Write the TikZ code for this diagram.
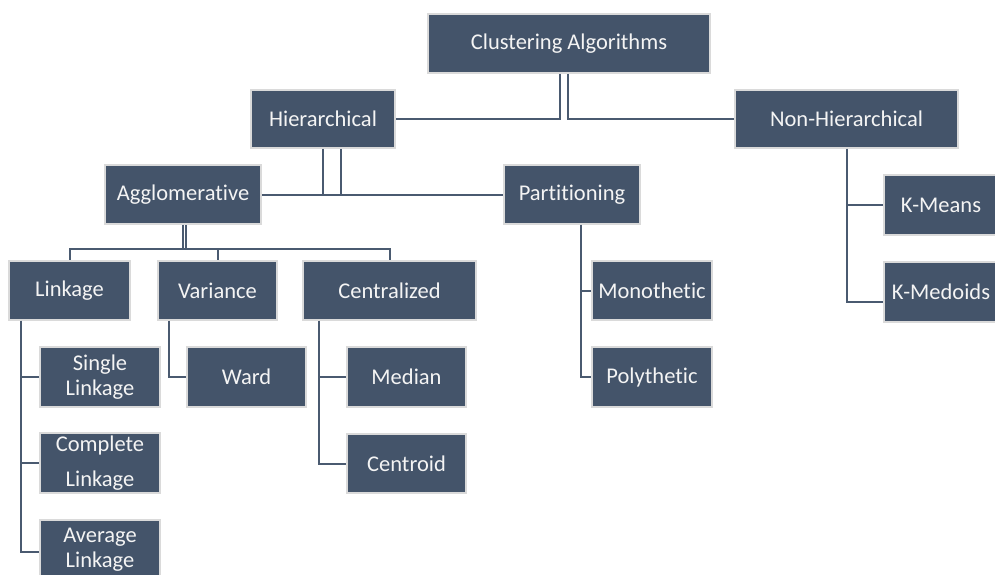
\documentclass[tikz,border=0pt]{standalone}
\usepackage{fontspec}
\setmainfont{Carlito}[Ligatures=NoCommon]
\definecolor{boxfill}{HTML}{44546A}
\definecolor{boxedge}{HTML}{DADADA}
\definecolor{linecol}{HTML}{4A5A70}
\definecolor{txtcol}{HTML}{F4F4F4}
\tikzset{
  box/.style={draw=boxedge, line width=1.6pt, fill=boxfill, text=txtcol,
    align=center, inner sep=0pt, font=\fontsize{22.5}{25}\selectfont},
  conn/.style={draw=linecol, line width=2pt}
}
\begin{document}
\begin{tikzpicture}[x=1pt,y=-1pt]
\useasboundingbox (0,0) rectangle (995,574);
% level 0-1
\node[box, minimum width=282, minimum height=59] (clus) at (569,43.5) {Clustering Algorithms};
\node[box, minimum width=144, minimum height=58] (hier) at (323,119) {Hierarchical};
\node[box, minimum width=223, minimum height=58] (nonh) at (846.5,119) {Non-Hierarchical};
% level 2
\node[box, minimum width=156, minimum height=59] (aggl) at (183,194.5) {Agglomerative};
\node[box, minimum width=136, minimum height=59] (part) at (572,194.5) {Partitioning};
\node[box, minimum width=114, minimum height=60] (kmeans) at (941,205) {K-Means};
\node[box, minimum width=114, minimum height=60] (kmed) at (941,292) {K-Medoids};
% level 3
\node[box, minimum width=121, minimum height=59] (link) at (69.5,290.5) {Linkage};
\node[box, minimum width=119, minimum height=59] (vari) at (217.5,290.5) {Variance};
\node[box, minimum width=173, minimum height=59] (cent) at (389.5,290.5) {Centralized};
\node[box, minimum width=120, minimum height=59] (mono) at (652,290.5) {Monothetic};
\node[box, minimum width=120, minimum height=60] (poly) at (652,377) {Polythetic};
% level 4
\node[box, minimum width=120, minimum height=60] (single) at (100,377) {Single\\Linkage};
\node[box, minimum width=120, minimum height=60] (complete) at (100,463) {Complete\\[10pt]Linkage};
\node[box, minimum width=120, minimum height=60] (average) at (100,550) {Average\\Linkage};
\node[box, minimum width=119, minimum height=60] (ward) at (246.5,377) {Ward};
\node[box, minimum width=119, minimum height=60] (median) at (406.5,377) {Median};
\node[box, minimum width=119, minimum height=59] (centroid) at (406.5,463.5) {Centroid};
% connectors
\draw[conn] ([xshift=-9pt]clus.south) |- (hier.east);
\draw[conn] ([xshift=-1pt]clus.south) |- (nonh.west);
\draw[conn] ([xshift=18pt]hier.south) |- (aggl.east);
\draw[conn] (hier.south) |- (part.west);
\draw[conn] (aggl.south) -- ++(0,24) -| (link.north);
\draw[conn] (aggl.south) -- ++(0,24) -| (vari.north);
\draw[conn] ([xshift=3pt]aggl.south) -- ++(0,24) -| (cent.north);
\draw[conn] ([xshift=13pt]link.south west) |- (single.west);
\draw[conn] ([xshift=13pt]link.south west) |- (complete.west);
\draw[conn] ([xshift=13pt]link.south west) |- ([yshift=-2pt]average.west);
\draw[conn] ([xshift=12pt]vari.south west) |- (ward.west);
\draw[conn] ([xshift=17pt]cent.south west) |- (median.west);
\draw[conn] ([xshift=17pt]cent.south west) |- (centroid.west);
\draw[conn] ([xshift=9pt]part.south) |- (mono.west);
\draw[conn] ([xshift=9pt]part.south) |- (poly.west);
\draw[conn] (nonh.south) |- (kmeans.west);
\draw[conn] (nonh.south) |- ([yshift=-10pt]kmed.west);
\end{tikzpicture}
\end{document}
